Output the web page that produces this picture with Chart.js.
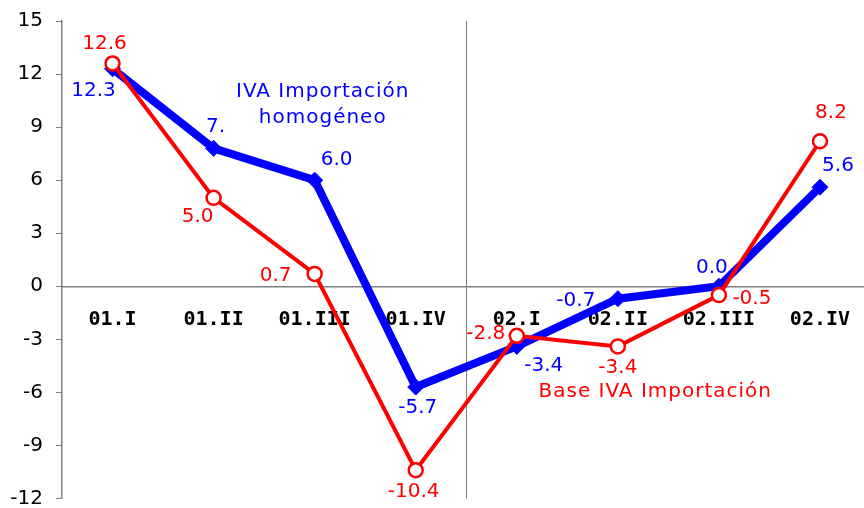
<!DOCTYPE html>
<html><head><meta charset="utf-8">
<script src="https://cdn.jsdelivr.net/npm/chart.js@4/dist/chart.umd.min.js"></script>
<style>
html,body{margin:0;padding:0;overflow:hidden;background:#fff;width:864px;height:508px}
#wrap{width:880px;height:508px;position:relative}
</style></head>
<body><div id="wrap"><canvas id="c"></canvas></div>
<script>
// ---- data ----
const categories = ['01.I','01.II','01.III','01.IV','02.I','02.II','02.III','02.IV'];
const baseIVA = [12.6, 5.0, 0.7, -10.4, -2.8, -3.4, -0.5, 8.2];
const ivaHomogeneo = [12.3, 7.8, 6.0, -5.7, -3.4, -0.7, 0.0, 5.6];
const baseIVALabels = ['12.6','5.0','0.7','-10.4','-2.8','-3.4','-0.5','8.2'];
const ivaHomogeneoLabels = ['12.3','7.','6.0','-5.7','-3.4','-0.7','0.0','5.6'];
const yTicks = [-12, -9, -6, -3, 0, 3, 6, 9, 12, 15];
const seriesNames = ['Base IVA Importación', 'IVA Importación homogéneo'];

// ---- styling (label offsets in px relative to each point) ----
const redOffsets = [[-8,-20],[-16,19],[-39,2],[-2,22],[-31,-2],[0,21],[33,4],[11,-28]];
const blueOffsets = [[-19,22],[2,-22],[22,-20],[2,21],[27,19],[-42,2],[-7,-18],[18,-21]];
const FONT = '"DejaVu Sans", Verdana, sans-serif';

const plugin = {
  id: 'extras',
  beforeDatasetsDraw(chart) {
    const {ctx, chartArea, scales} = chart;
    const xs = scales.x;
    const xm = (xs.getPixelForValue(3) + xs.getPixelForValue(4)) / 2;
    ctx.save();
    ctx.strokeStyle = '#808080';
    ctx.lineWidth = 1;
    ctx.beginPath();
    ctx.moveTo(Math.round(xm) + 0.5, chartArea.top);
    ctx.lineTo(Math.round(xm) + 0.5, chartArea.bottom);
    ctx.stroke();
    ctx.restore();
  },
  afterDatasetsDraw(chart) {
    const {ctx, scales} = chart;
    const xs = scales.x, ys = scales.y;
    ctx.save();
    ctx.font = '20px ' + FONT;
    ctx.textAlign = 'center';
    ctx.textBaseline = 'middle';
    chart.data.datasets.forEach((ds, i) => {
      const meta = chart.getDatasetMeta(i);
      meta.data.forEach((pt, j) => {
        const off = ds.labelOffsets[j];
        ctx.fillStyle = ds.labelColor;
        ctx.fillText(ds.labelTexts[j], pt.x + off[0], pt.y + off[1]);
      });
    });
    // series annotations
    ctx.letterSpacing = '1px';
    const step = xs.getPixelForValue(1) - xs.getPixelForValue(0);
    ctx.fillStyle = '#0000FF';
    ctx.fillText('IVA Importación', xs.getPixelForValue(2) + 0.08 * step, ys.getPixelForValue(11));
    ctx.fillText('homogéneo', xs.getPixelForValue(2) + 0.08 * step, ys.getPixelForValue(9.5));
    ctx.fillStyle = '#FF0000';
    ctx.fillText('Base IVA Importación', xs.getPixelForValue(5) + 0.37 * step, ys.getPixelForValue(-5.95));
    ctx.restore();
  }
};

new Chart(document.getElementById('c'), {
  type: 'line',
  data: {
    labels: categories,
    datasets: [
      {
        label: seriesNames[0],
        data: baseIVA,
        labelTexts: baseIVALabels,
        labelOffsets: redOffsets,
        labelColor: '#FF0000',
        borderColor: '#FF0000',
        borderWidth: 4,
        tension: 0,
        pointStyle: 'circle',
        pointRadius: 7,
        pointBackgroundColor: '#FFFFFF',
        pointBorderColor: '#FF0000',
        pointBorderWidth: 2.5
      },
      {
        label: seriesNames[1],
        data: ivaHomogeneo,
        labelTexts: ivaHomogeneoLabels,
        labelOffsets: blueOffsets,
        labelColor: '#0000FF',
        borderColor: '#0000FF',
        borderWidth: 8,
        tension: 0,
        pointStyle: 'rectRot',
        pointRadius: 8,
        pointBackgroundColor: '#0000FF',
        pointBorderColor: '#0000FF',
        pointBorderWidth: 1
      }
    ]
  },
  options: {
    responsive: true,
    maintainAspectRatio: false,
    devicePixelRatio: 1,
    animation: false,
    layout: {padding: {top: 21, bottom: 5, left: 0, right: 4}},
    plugins: {legend: {display: false}, tooltip: {enabled: false}},
    scales: {
      x: {
        type: 'category',
        offset: true,
        position: {y: 0},
        grid: {display: true, drawOnChartArea: false, drawTicks: false},
        border: {display: true, color: '#808080', width: 1.5},
        ticks: {font: {family: '"DejaVu Sans Mono", monospace', size: 20, weight: 'bold'}, color: '#000', padding: 22, maxRotation: 0, autoSkip: false},
        afterFit(s) { s.paddingLeft = 0; s.paddingRight = 0; }
      },
      y: {
        position: 'left',
        min: -12,
        max: 15,
        grid: {display: true, drawOnChartArea: false, drawTicks: true, tickLength: 6, color: '#808080'},
        border: {display: true, color: '#808080', width: 1.5},
        ticks: {stepSize: 3, font: {family: FONT, size: 20}, color: '#000', padding: 13},
        afterBuildTicks(s) { s.ticks = yTicks.map(v => ({value: v})); },
        afterFit(s) { s.width = 62; s.paddingTop = 0; s.paddingBottom = 0; }
      }
    }
  },
  plugins: [plugin]
});
</script>
</body></html>
